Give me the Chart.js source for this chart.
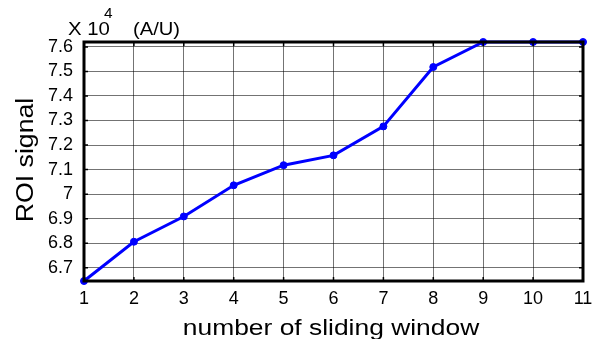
<!DOCTYPE html>
<html>
<head>
<meta charset="utf-8">
<script src="https://cdn.jsdelivr.net/npm/chart.js@4/dist/chart.umd.min.js"></script>
<style>
  html, body { margin: 0; padding: 0; background: #fff; }
  #wrap { width: 597px; height: 339px; }
</style>
</head>
<body>
<div id="wrap"><canvas id="roiChart"></canvas></div>
<script>
// sliding window index and ROI signal (x 10^4, A/U)
const windows = [1, 2, 3, 4, 5, 6, 7, 8, 9, 10, 11];
const roiSignal = [6.646, 6.806, 6.909, 7.036, 7.118, 7.158, 7.276, 7.518, 7.62, 7.62, 7.62];
const yTicks = [6.7, 6.8, 6.9, 7.0, 7.1, 7.2, 7.3, 7.4, 7.5, 7.6];

const xTitle = 'number of sliding window';
const yTitle = 'ROI signal';

const FONT = 'Arial, "Liberation Sans", sans-serif';

// the original figure's text is a bit wider than Arial, so stretch it
function wideText(ctx, text, x, y, size, stretch, align) {
  ctx.font = size + 'px ' + FONT;
  const w = ctx.measureText(text).width * stretch;
  let x0 = x;
  if (align === 'center') x0 = x - w / 2;
  ctx.save();
  ctx.translate(x0, y);
  ctx.scale(stretch, 1);
  ctx.textAlign = 'left';
  ctx.fillText(text, 0, 0);
  ctx.restore();
}

// frame with inward ticks, titles and exponent label, matlab style
const framePlugin = {
  id: 'frame',
  afterDraw(chart) {
    const { ctx, chartArea: a, scales } = chart;
    ctx.save();
    ctx.strokeStyle = '#000';
    ctx.lineWidth = 1.5;
    const t = 4;
    windows.forEach(v => {
      const x = scales.x.getPixelForValue(v);
      ctx.beginPath();
      ctx.moveTo(x, a.bottom); ctx.lineTo(x, a.bottom - t);
      ctx.moveTo(x, a.top); ctx.lineTo(x, a.top + t);
      ctx.stroke();
    });
    yTicks.forEach(v => {
      const y = scales.y.getPixelForValue(v);
      ctx.beginPath();
      ctx.moveTo(a.left, y); ctx.lineTo(a.left + t, y);
      ctx.moveTo(a.right, y); ctx.lineTo(a.right - t, y);
      ctx.stroke();
    });
    ctx.lineWidth = 3;
    ctx.strokeRect(a.left, a.top, a.right - a.left, a.bottom - a.top);

    ctx.fillStyle = '#000';
    ctx.textBaseline = 'alphabetic';
    wideText(ctx, 'X 10', 68, 35, 18, 1.13, 'left');
    wideText(ctx, '(A/U)', 133, 35, 18, 1.12, 'left');
    wideText(ctx, '4', 104, 18, 14, 1.1, 'left');

    // axis titles
    wideText(ctx, xTitle, 331, 335, 22, 1.2, 'center');
    ctx.save();
    ctx.translate(33, 160);
    ctx.rotate(-Math.PI / 2);
    wideText(ctx, yTitle, 0, 0, 23, 1.16, 'center');
    ctx.restore();
    ctx.restore();
  }
};

new Chart(document.getElementById('roiChart'), {
  type: 'line',
  data: {
    datasets: [{
      data: windows.map((w, i) => ({ x: w, y: roiSignal[i] })),
      borderColor: '#0000ff',
      backgroundColor: '#0000ff',
      borderWidth: 3,
      pointRadius: 3.5,
      pointBackgroundColor: '#0000ff',
      pointBorderColor: '#0000ff',
      pointBorderWidth: 1,
      tension: 0,
      clip: false
    }]
  },
  options: {
    responsive: true,
    maintainAspectRatio: false,
    animation: false,
    layout: { padding: { left: 0, right: 3, top: 42, bottom: 2 } },
    plugins: { legend: { display: false }, tooltip: { enabled: false } },
    scales: {
      x: {
        type: 'linear',
        min: 1,
        max: 11,
        afterBuildTicks: s => { s.ticks = windows.map(v => ({ value: v })); },
        afterFit: s => { s.height = 56; s.paddingRight = 14; },
        ticks: { color: '#000', font: { family: FONT, size: 18 }, padding: 7, maxRotation: 0 },
        grid: { color: 'rgba(0,0,0,0.55)', lineWidth: 1, drawTicks: false },
        border: { display: false }
      },
      y: {
        min: 6.646,
        max: 7.62,
        afterBuildTicks: s => { s.ticks = yTicks.map(v => ({ value: v })); },
        afterFit: s => { s.width = 84; },
        ticks: {
          color: '#000',
          font: { family: FONT, size: 18 },
          padding: 11,
          callback: v => String(Math.round(v * 10) / 10)
        },
        grid: { color: 'rgba(0,0,0,0.55)', lineWidth: 1, drawTicks: false },
        border: { display: false }
      }
    }
  },
  plugins: [framePlugin]
});
</script>
</body>
</html>
